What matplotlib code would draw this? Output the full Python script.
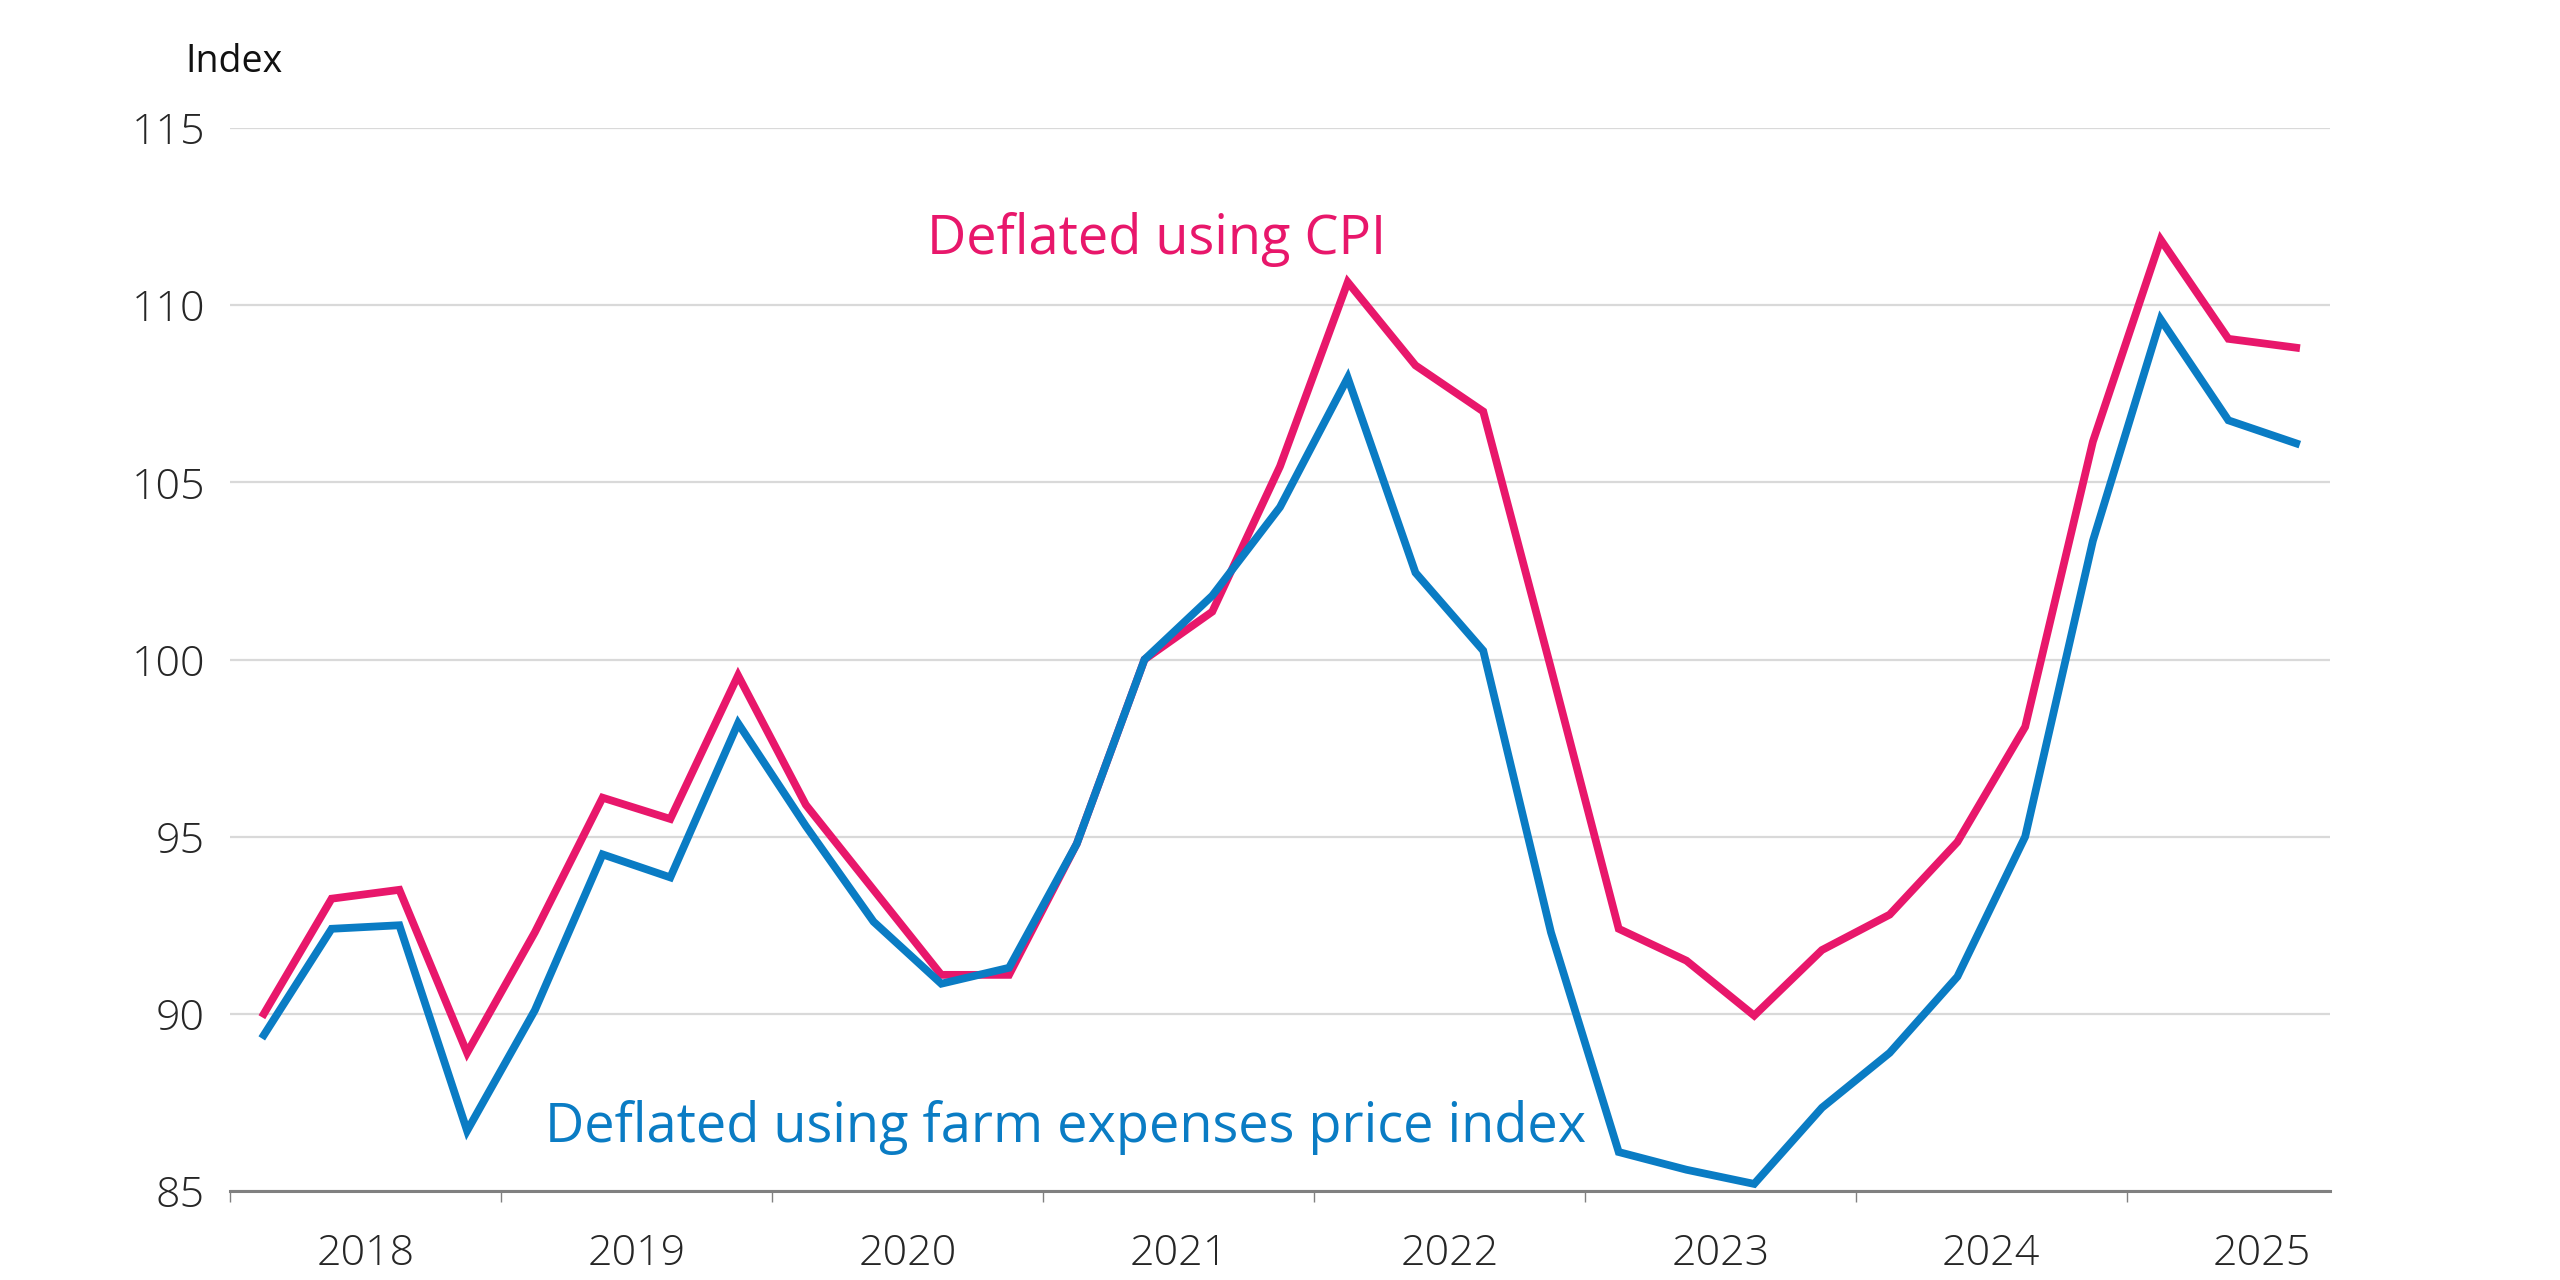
import matplotlib
matplotlib.use("Agg")
import matplotlib.pyplot as plt
from matplotlib import font_manager as fm

# quarterly index, 2018Q1 .. 2025Q3 (2021Q2 = 100)
YEARS = ["2018", "2019", "2020", "2021", "2022", "2023", "2024", "2025"]
CPI = [90.0, 93.25, 93.5, 88.9, 92.3, 96.1, 95.5, 99.55,
       95.9, 93.5, 91.1, 91.1, 94.8, 100.0, 101.35, 105.45,
       110.65, 108.3, 107.0, 99.75, 92.4, 91.5, 89.95, 91.8,
       92.8, 94.85, 98.1, 106.15, 111.85, 109.05, 108.8]
FARM = [89.4, 92.4, 92.5, 86.7, 90.1, 94.5, 93.85, 98.2,
        95.3, 92.6, 90.85, 91.3, 94.8, 100.0, 101.8, 104.3,
        107.95, 102.45, 100.25, 92.3, 86.1, 85.6, 85.2, 87.35,
        88.9, 91.05, 95.0, 103.35, 109.6, 106.75, 106.1]
YTICKS = [85, 90, 95, 100, 105, 110, 115]

PINK = "#E8176B"
BLUE = "#0A7CC4"
TXT = "#262626"

names = {f.name for f in fm.fontManager.ttflist}
FONT = "Open Sans" if "Open Sans" in names else "DejaVu Sans"
plt.rcParams["font.family"] = [FONT, "DejaVu Sans"]

fig = plt.figure(figsize=(12.8, 6.4), dpi=200)
ax = fig.add_axes([230 / 2560, 1 - 1191 / 1280, 2100 / 2560, (1191 - 128) / 1280])

x = list(range(len(CPI)))
ax.plot(x, CPI, color=PINK, lw=2.8, solid_joinstyle="miter", zorder=3)
ax.plot(x, FARM, color=BLUE, lw=2.8, solid_joinstyle="miter", zorder=4)

ax.set_xlim(-0.5, len(CPI) - 0.5)
ax.set_ylim(85, 115)
ax.set_yticks(YTICKS)
ax.set_yticklabels([str(v) for v in YTICKS], fontsize=15.5, fontweight="light", color=TXT)
ax.grid(axis="y", color="#d9d9d9", lw=0.8, zorder=0)
ax.tick_params(axis="y", length=0, pad=9)

# year separators as major ticks, year names as minor tick labels
ax.set_xticks([-0.5 + 4 * i for i in range(len(YEARS))])
ax.set_xticklabels([])
ax.set_xticks([1.5 + 4 * i for i in range(len(YEARS))], minor=True)
ax.set_xticklabels(YEARS, minor=True, fontsize=15.5, fontweight="light", color=TXT)
ax.tick_params(axis="x", which="major", length=4, width=0.5, color="#808080", direction="out")
ax.tick_params(axis="x", which="minor", length=0, pad=15)
for t in ax.xaxis.get_minorticklabels():
    t.set_clip_on(False)

for s in ["top", "right", "left"]:
    ax.spines[s].set_visible(False)
ax.spines["bottom"].set_color("#808080")
ax.spines["bottom"].set_linewidth(1.1)
ax.spines["bottom"].set_zorder(5)

fig.text(185 / 2560, 1 - 62 / 1280, "Index", fontsize=13.5, color="#111111", va="center", ha="left")
ax.text(13.18, 111.85, "Deflated using CPI", color=PINK, fontsize=19.5, ha="center", va="center")
ax.text(11.84, 86.8, "Deflated using farm expenses price index", color=BLUE, fontsize=19.5,
        ha="center", va="center")

fig.savefig("out.png", dpi=200, facecolor="white")
